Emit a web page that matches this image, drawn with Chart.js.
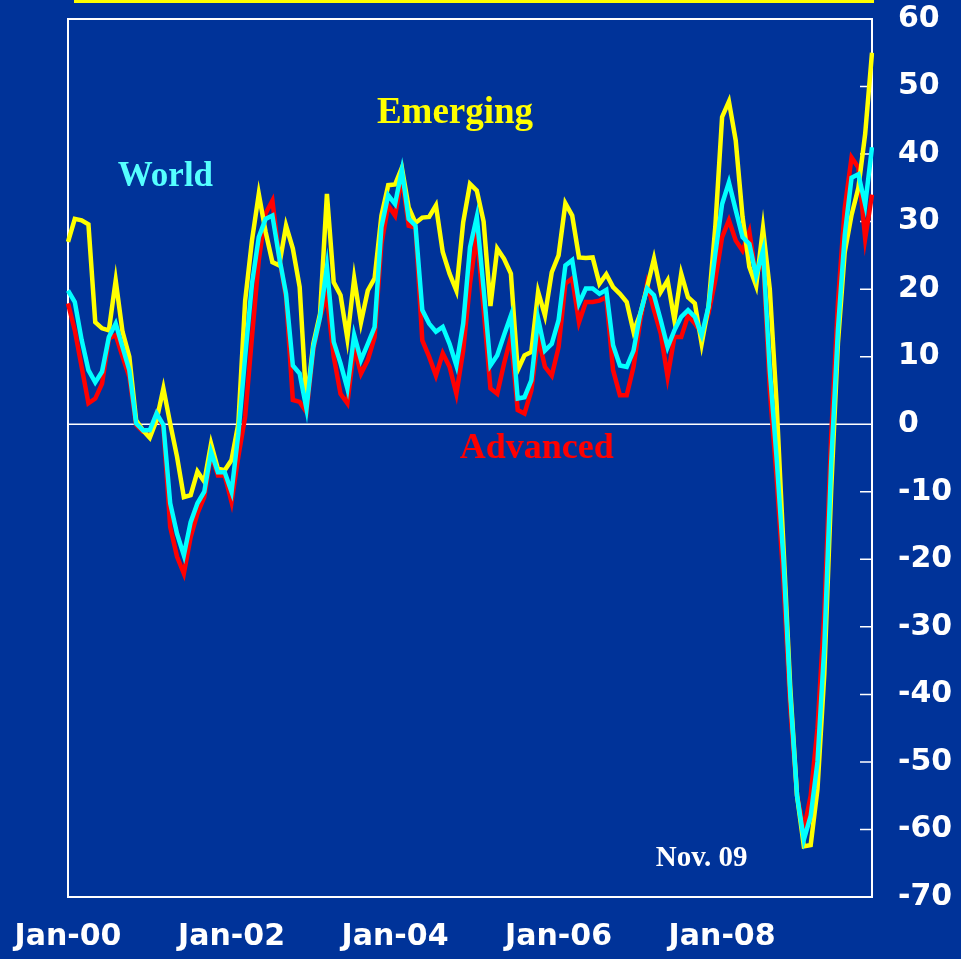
<!DOCTYPE html>
<html>
<head>
<meta charset="utf-8">
<style>
    html, body { margin: 0; padding: 0; background: #003399; }
    #wrap { position: relative; width: 961px; height: 959px; }
    #topline { position: absolute; left: 74px; top: 0; width: 800px; height: 3px; background: #ffff00; }
</style>
</head>
<body>
<div id="wrap">
    <canvas id="chart" width="961" height="959"></canvas>
    <div id="topline"></div>
</div>
<script src="https://cdn.jsdelivr.net/npm/chart.js@4/dist/chart.umd.min.js"></script>
<script>
// monthly, Jan-00 .. Nov-09
const monthNames = ['Jan', 'Feb', 'Mar', 'Apr', 'May', 'Jun', 'Jul', 'Aug', 'Sep', 'Oct', 'Nov', 'Dec'];
const years = ['00', '01', '02', '03', '04', '05', '06', '07', '08', '09'];
const months = years.flatMap((yy) => monthNames.map((m) => `${m}-${yy}`)).slice(0, 119);

const xTickLabels = ['Jan-00', 'Jan-02', 'Jan-04', 'Jan-06', 'Jan-08'];
const yMin = -70;
const yMax = 60;
const yStep = 10;

const emerging = [
    27, 30.4, 30.2, 29.6, 15.1, 14.2, 13.9, 21.3, 13.7, 10, 0.6, -0.9,
    -2, 0.6, 5.3, 0.1, -4.8, -10.8, -10.5, -7, -8.5, -2.9, -6.6, -6.8,
    -5.3, 0.1, 18.3, 27.2, 34.1, 28.5, 24, 23.5, 29.4, 26, 20.3, 3.1,
    11.9, 16.4, 34.1, 21, 19.1, 12.7, 21.6, 15.1, 19.8, 21.6, 30.9, 35.4,
    35.5, 38, 32.1, 29.8, 30.6, 30.7, 32.4, 25.5, 22.3, 19.8, 29.9, 35.6,
    34.6, 30, 17.5, 26, 24.5, 22.3, 8, 10.2, 10.7, 19.6, 16.1, 22.5,
    25, 32.7, 30.9, 24.7, 24.6, 24.7, 20.8, 22.2, 20.3, 19.3, 18.1, 13.7,
    16.4, 20.3, 24.5, 19.6, 21.3, 15.4, 22.3, 18.8, 17.9, 11.9, 17.4, 29.2,
    45.5, 47.8, 42, 30.7, 23.3, 20.5, 29, 20, 3, -18, -39, -55,
    -62.5, -62.3, -54, -37, -10, 12, 25.5, 31, 35, 43, 55,
];

const world = [
    19.8, 18.1, 12.5, 8, 6.2, 7.8, 12.9, 14.9, 11.4, 8, 0.1, -0.9,
    -0.9, 1.6, -0.1, -11.7, -16.2, -19.4, -14.5, -11.7, -10, -4.1, -7.1, -7.1,
    -10, -1.4, 10, 20.8, 27.7, 30.4, 30.9, 24.7, 19.3, 8.7, 7.5, 2.3,
    11.4, 15.9, 23.3, 12.2, 9, 5.3, 13.2, 9.5, 11.9, 14.4, 29.2, 33.9,
    32.6, 37.6, 30.4, 29.4, 16.9, 14.9, 13.7, 14.4, 11.9, 8.7, 14.9, 26.2,
    30.7, 20, 8.7, 10.2, 13.2, 16.1, 3.8, 4, 6.5, 15.6, 10.9, 11.9,
    15.4, 23.5, 24.3, 17.9, 20.1, 20.1, 19.3, 19.9, 11.7, 8.7, 8.5, 10.9,
    16.4, 20.1, 19.1, 15.4, 11.4, 13.9, 15.9, 16.9, 15.9, 13.2, 17.4, 25.2,
    32.6, 35.8, 31.7, 27.7, 26.7, 22, 25.7, 8, -5, -20, -40, -55,
    -61.5, -58, -50, -33, -6, 14, 28, 36.5, 37, 32.5, 41,
];

const advanced = [
    17.9, 13.9, 8.5, 3.1, 3.8, 6, 12.7, 13.2, 10, 7, -0.1, -1.1,
    -1.1, 1.6, -0.4, -15.2, -19.6, -22.1, -16.7, -13.2, -10.8, -4.4, -7.6, -7.6,
    -11.5, -4.8, 1.1, 12.9, 24.3, 31.2, 33.1, 24.7, 18.8, 3.6, 3.3, 1.8,
    11, 15.9, 19, 10, 4.5, 3.1, 11.4, 7.5, 9.5, 12.9, 26.7, 32.4,
    30.9, 36.6, 29.4, 29.1, 12.4, 10, 7.2, 10.5, 8.5, 4.5, 10.9, 20.8,
    28.2, 17, 5.3, 4.5, 9, 12.9, 2.1, 1.6, 5, 12.9, 8.5, 7.2,
    11.4, 20.8, 21.6, 15.1, 18.1, 18.1, 18.3, 18.8, 8, 4.3, 4.3, 8.5,
    15.4, 20.8, 16.9, 13.4, 7, 12.9, 12.9, 16.1, 14.9, 13.4, 16.4, 21.3,
    27.7, 30.2, 27.2, 25.7, 28.5, 21.8, 25, 5, -8, -23, -42, -55,
    -60, -55, -45, -28, -2, 18, 32, 39.5, 38, 27.5, 34,
];

// in-chart labels, placed in data coordinates (month index, value)
const seriesLabels = [
    { text: 'Emerging', at: [56.8, 46], color: '#ffff00', size: 37 },
    { text: 'World', at: [14.3, 36.6], color: '#55ffff', size: 35 },
    { text: 'Advanced', at: [68.8, -3.6], color: '#ff0000', size: 36 },
    { text: 'Nov. 09', at: [93, -64.3], color: '#ffffff', size: 29 },
];

const framePlugin = {
    id: 'frame',
    beforeDatasetsDraw(chart) {
        const { ctx, chartArea: a, scales } = chart;
        const y = scales.y;
        ctx.save();
        ctx.strokeStyle = '#ffffff';
        ctx.lineWidth = 1.5;
        const y0 = y.getPixelForValue(0);
        ctx.beginPath();
        ctx.moveTo(a.left, y0);
        ctx.lineTo(a.right, y0);
        y.ticks.forEach((t) => {
            const py = y.getPixelForValue(t.value);
            ctx.moveTo(a.right - 12, py);
            ctx.lineTo(a.right, py);
        });
        ctx.stroke();
        ctx.lineWidth = 2;
        ctx.strokeRect(a.left, a.top, a.width, a.height);
        ctx.restore();
    },
    afterDatasetsDraw(chart) {
        const { ctx, scales } = chart;
        ctx.save();
        ctx.textAlign = 'center';
        ctx.textBaseline = 'middle';
        seriesLabels.forEach((l) => {
            ctx.font = `bold ${l.size}px "Liberation Serif", serif`;
            ctx.fillStyle = l.color;
            ctx.fillText(l.text, scales.x.getPixelForValue(l.at[0]), scales.y.getPixelForValue(l.at[1]));
        });
        ctx.restore();
    },
};

const tickFont = { family: '"DejaVu Sans", sans-serif', size: 30, weight: 'bold' };

new Chart(document.getElementById('chart'), {
    type: 'line',
    data: {
        labels: months,
        datasets: [
            { label: 'World', data: world, borderColor: '#00ffff', order: 0 },
            { label: 'Emerging', data: emerging, borderColor: '#ffff00', order: 1 },
            { label: 'Advanced', data: advanced, borderColor: '#ff0000', order: 2 },
        ],
    },
    options: {
        responsive: false,
        animation: false,
        layout: { padding: { top: 19, left: 68, right: 0, bottom: 0 } },
        elements: {
            line: { borderWidth: 4.5, tension: 0, fill: false },
            point: { radius: 0 },
        },
        scales: {
            x: {
                type: 'category',
                offset: false,
                grid: { display: false, drawTicks: false },
                border: { display: false },
                ticks: {
                    autoSkip: false,
                    maxRotation: 0,
                    color: '#ffffff',
                    font: tickFont,
                    padding: 22,
                    callback: (v, i) => (xTickLabels.includes(months[i]) ? months[i] : null),
                },
                afterFit: (s) => {
                    s.height = 62;
                    s.paddingLeft = 0;
                    s.paddingRight = 0;
                },
            },
            y: {
                position: 'right',
                min: yMin,
                max: yMax,
                grid: { display: false, drawTicks: false },
                border: { display: false },
                ticks: {
                    stepSize: yStep,
                    color: '#ffffff',
                    font: tickFont,
                    padding: 26,
                },
                afterFit: (s) => {
                    s.width = 89;
                    s.paddingTop = 0;
                    s.paddingBottom = 0;
                },
            },
        },
        plugins: {
            legend: { display: false },
            tooltip: { enabled: false },
        },
    },
    plugins: [framePlugin],
});
</script>
</body>
</html>
